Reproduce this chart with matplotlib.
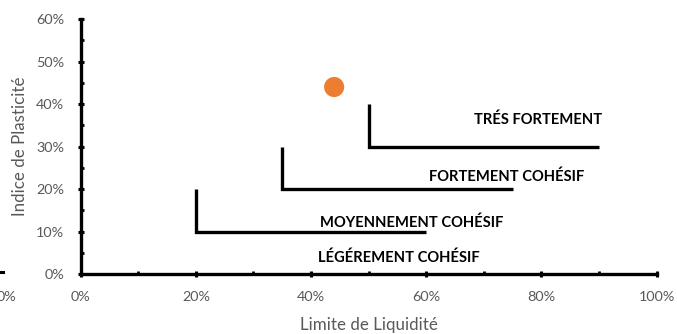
import numpy as np
import matplotlib
matplotlib.use('Agg')
import matplotlib.pyplot as plt
from matplotlib.ticker import MultipleLocator, PercentFormatter

plt.rcParams['font.family'] = ['Lato', 'DejaVu Sans']

# classes de cohésion : coin en L (limite de liquidité / indice de plasticité)
classes = ['LÉGÉREMENT COHÉSIF', 'MOYENNEMENT COHÉSIF', 'FORTEMENT COHÉSIF', 'TRÉS FORTEMENT']
coin_x = [20, 35, 50]        # % limite de liquidité (branche verticale)
coin_bas = [10, 20, 30]      # % indice de plasticité (branche horizontale)
coin_haut = [20, 30, 40]     # % haut de la branche verticale
fin_x = [60, 75, 90]         # % fin de la branche horizontale

# position des étiquettes (%)
label_x = [55.3, 57.5, 73.9, 79.4]
label_y = [3.8, 12.0, 22.9, 36.3]

# échantillon
wl = [44]
ip = [44]

grey = '#595959'

fig = plt.figure(figsize=(6.77, 3.34), dpi=100)
ax = fig.add_axes([0.1192, 0.1796, 0.8508, 0.7635])

for xv, yb, yh, xf in zip(coin_x, coin_bas, coin_haut, fin_x):
    ax.plot([xv, xv, xf], [yh, yb, yb], color='black', lw=2.4,
            solid_joinstyle='miter', solid_capstyle='butt')

for t, tx, ty in zip(classes, label_x, label_y):
    ax.text(tx, ty, t, ha='center', va='center', fontsize=10.6,
            fontweight='bold', color='black')

ax.scatter(wl, ip, s=210, color='#ED7D31', edgecolors='none', zorder=5)

ax.set_xlim(0, 100)
ax.set_ylim(0, 60)
ax.xaxis.set_major_locator(MultipleLocator(20))
ax.xaxis.set_minor_locator(MultipleLocator(10))
ax.yaxis.set_major_locator(MultipleLocator(10))
ax.yaxis.set_minor_locator(MultipleLocator(5))
ax.xaxis.set_major_formatter(PercentFormatter(decimals=0))
ax.yaxis.set_major_formatter(PercentFormatter(decimals=0))

for s in ['top', 'right']:
    ax.spines[s].set_visible(False)
for s in ['left', 'bottom']:
    ax.spines[s].set_linewidth(2.4)
    ax.spines[s].set_capstyle('projecting')

ax.tick_params(which='major', direction='inout', length=4, width=2.2,
               labelsize=10.4, labelcolor=grey, color='black')
ax.tick_params(which='minor', direction='in', length=2.5, width=2.0, color='black')
ax.tick_params(axis='x', which='major', pad=10)
ax.tick_params(axis='y', which='major', pad=10)

ax.set_xlabel('Limite de Liquidité', fontsize=12.2, color=grey, labelpad=10)
ax.set_ylabel('Indice de Plasticité', fontsize=12.2, color=grey)
ax.yaxis.set_label_coords(-0.092, 0.5)

# reste d'un second axe à gauche
fig.text(0.010, 0.112, '0%', ha='center', va='center', fontsize=10.4, color=grey)
fig.add_artist(plt.Line2D([0, 0.005], [0.186, 0.186], color='black', lw=2.2,
                          transform=fig.transFigure))

fig.savefig('out.png', dpi=100)
